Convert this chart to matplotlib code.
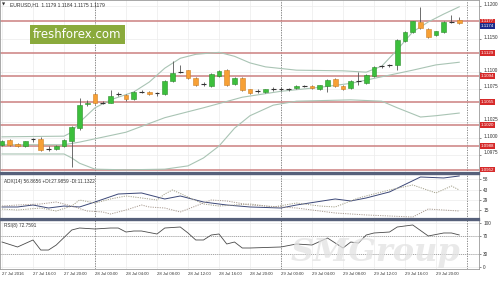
import numpy as np
import matplotlib.pyplot as plt
from matplotlib.transforms import blended_transform_factory, ScaledTranslation

plt.rcParams['font.family'] = ['Liberation Sans', 'DejaVu Sans']

# ---------------- data (EURUSD H1, 27 Jul 12:00 .. 29 Jul 23:00) ----------------
opens = [1.0989, 1.0997, 1.0991, 1.0988, 1.0997, 1.0998, 1.0983, 1.0983, 1.0988, 1.0995,
         1.1015, 1.1051, 1.1067, 1.1053, 1.1054, 1.1066, 1.1065, 1.1059, 1.1070, 1.1070,
         1.1069, 1.1067, 1.1086, 1.1099, 1.1103, 1.1091, 1.1081, 1.1079, 1.1094, 1.1103,
         1.1082, 1.1091, 1.1074, 1.1070, 1.1070, 1.1074, 1.1074, 1.1075, 1.1076, 1.1079,
         1.1079, 1.1074, 1.1079, 1.1089, 1.1079, 1.1076, 1.1085, 1.1083, 1.1094, 1.1108,
         1.1110, 1.1111, 1.1147, 1.1161, 1.1176, 1.1165, 1.1156, 1.1161, 1.1177, 1.1179]
highs = [1.0997, 1.0999, 1.0992, 1.0996, 1.1000, 1.1001, 1.0988, 1.0989, 1.0999, 1.1019,
         1.1061, 1.1058, 1.1069, 1.1056, 1.1073, 1.1070, 1.1067, 1.1071, 1.1073, 1.1071,
         1.1070, 1.1088, 1.1117, 1.1111, 1.1104, 1.1092, 1.1085, 1.1099, 1.1104, 1.1105,
         1.1092, 1.1092, 1.1075, 1.1074, 1.1075, 1.1077, 1.1077, 1.1076, 1.1080, 1.1081,
         1.1080, 1.1081, 1.1089, 1.1091, 1.1080, 1.1088, 1.1100, 1.1097, 1.1109, 1.1111,
         1.1112, 1.1150, 1.1163, 1.1178, 1.1198, 1.1167, 1.1163, 1.1177, 1.1186, 1.1184]
lows = [1.0988, 1.0988, 1.0986, 1.0986, 1.0994, 1.0980, 1.0981, 1.0982, 1.0986, 1.0956,
        1.1013, 1.1049, 1.1051, 1.1052, 1.1053, 1.1064, 1.1056, 1.1058, 1.1068, 1.1066,
        1.1064, 1.1065, 1.1085, 1.1098, 1.1089, 1.1079, 1.1079, 1.1077, 1.1092, 1.1079,
        1.1080, 1.1071, 1.1067, 1.1069, 1.1068, 1.1072, 1.1072, 1.1071, 1.1074, 1.1077,
        1.1075, 1.1073, 1.1070, 1.1077, 1.1073, 1.1074, 1.1080, 1.1082, 1.1092, 1.1106,
        1.1108, 1.1103, 1.1145, 1.1159, 1.1165, 1.1151, 1.1155, 1.1159, 1.1174, 1.1173]
closes = [1.0995, 1.0989, 1.0988, 1.0995, 1.0998, 1.0982, 1.0984, 1.0988, 1.0997, 1.1017,
          1.1050, 1.1054, 1.1053, 1.1054, 1.1064, 1.1067, 1.1059, 1.1070, 1.1070, 1.1067,
          1.1068, 1.1086, 1.1098, 1.1100, 1.1091, 1.1080, 1.1082, 1.1097, 1.1101, 1.1080,
          1.1091, 1.1073, 1.1068, 1.1071, 1.1074, 1.1074, 1.1075, 1.1074, 1.1079, 1.1079,
          1.1076, 1.1080, 1.1088, 1.1079, 1.1074, 1.1086, 1.1086, 1.1095, 1.1108, 1.1109,
          1.1111, 1.1148, 1.1161, 1.1177, 1.1167, 1.1153, 1.1162, 1.1176, 1.1176, 1.1174]

# Bollinger bands (bar index, price)
bb_upper_x = [0, 8, 9, 10, 12, 14, 17, 19, 21, 23, 25, 28, 30, 32, 34, 38, 44, 47, 49, 51, 53, 55, 57, 59]
bb_upper = [1.1002, 1.1003, 1.1009, 1.1024, 1.1046, 1.1058, 1.1070, 1.1085, 1.1106, 1.1121, 1.1127, 1.1130,
            1.1124, 1.1114, 1.1108, 1.1103, 1.1102, 1.1100, 1.1109, 1.1134, 1.1161, 1.1176, 1.1188, 1.1199]
bb_mid_x = [0, 8, 10, 12, 16, 21, 26, 31, 36, 41, 45, 49, 53, 56, 59]
bb_mid = [1.0990, 1.0990, 1.0994, 1.0999, 1.1009, 1.1031, 1.1046, 1.1062, 1.1071, 1.1077, 1.1083,
          1.1093, 1.1103, 1.1111, 1.1115]
bb_lower_x = [0, 8, 9, 10, 12, 16, 21, 24, 26, 28, 30, 32, 35, 38, 45, 49, 51, 54, 56, 59]
bb_lower = [1.0976, 1.0976, 1.0970, 1.0962, 1.0953, 1.0952, 1.0953, 1.0958, 1.0970, 1.0988, 1.1015,
            1.1034, 1.1050, 1.1056, 1.1058, 1.1056, 1.1046, 1.1032, 1.1034, 1.1038]

levels = [1.1177, 1.1129, 1.1094, 1.1055, 1.1020, 1.0988, 1.0952]
price_ticks = [1.0975, 1.1000, 1.1025, 1.1075, 1.1100, 1.1150, 1.1200]

adx_x = [0, 2, 4, 6, 8, 10, 12, 15, 18, 21, 23, 26, 29, 32, 36, 38, 43, 45, 47, 50, 54, 57, 59]
adx = [19.8, 19.8, 22.5, 18.4, 21.1, 19.8, 26.6, 37.5, 38.9, 30.7, 34.8, 26.6, 22.5, 19.8, 18.4,
       22.5, 30.7, 28.0, 32.1, 40.3, 60.7, 59.4, 62.1]
pdi_x = [0, 2, 5, 7, 9, 10, 12, 14, 16, 18, 20, 21, 22, 24, 26, 28, 30, 32, 35, 38, 41, 43, 46, 50, 53, 56, 58, 59]
pdi = [17.0, 15.7, 18.4, 14.3, 21.1, 29.3, 25.2, 30.7, 34.8, 32.1, 29.3, 37.5, 43.0, 33.4, 23.9, 21.1,
       22.5, 23.9, 19.8, 25.2, 21.1, 19.8, 32.1, 43.0, 49.8, 38.9, 48.4, 43.0]
mdi_x = [0, 2, 5, 7, 9, 11, 13, 14, 16, 18, 19, 21, 23, 26, 27, 29, 32, 36, 38, 43, 47, 53, 55, 59]
mdi = [21.1, 22.5, 23.9, 26.6, 21.1, 14.3, 13.0, 10.2, 15.7, 22.5, 19.8, 18.4, 13.0, 25.2, 29.3, 28.0,
       22.5, 19.8, 18.4, 11.6, 8.9, 6.1, 17.0, 14.3]
adx_ticks = [15, 29, 43, 58]

rsi_x = [0, 2, 4, 5, 6, 7, 9, 10, 12, 14, 15, 16, 17, 18, 20, 21, 23, 24, 25, 26, 27, 28, 29, 30, 31,
         32, 36, 38, 40, 42, 44, 45, 46, 47, 48, 50, 51, 53, 55, 57, 58, 59]
rsi = [56.8, 45.5, 61.4, 38.6, 38.6, 50.0, 84.1, 88.6, 86.4, 88.6, 88.6, 79.5, 81.8, 81.8, 75.0, 88.6,
       90.9, 77.3, 61.4, 61.4, 72.7, 75.0, 52.3, 56.8, 43.2, 43.2, 45.5, 52.3, 50.0, 65.9, 43.2, 56.8,
       54.5, 72.7, 77.3, 79.5, 90.9, 95.5, 70.5, 77.3, 77.3, 72.8]
rsi_ticks = [0, 30, 70, 100]

time_ticks = [0, 4, 8, 12, 16, 20, 24, 28, 32, 36, 40, 44, 48, 52, 56]
time_labels = ['27 Jul 2016', '27 Jul 16:00', '27 Jul 20:00', '28 Jul 00:00', '28 Jul 04:00',
               '28 Jul 08:00', '28 Jul 12:00', '28 Jul 16:00', '28 Jul 20:00', '29 Jul 00:00',
               '29 Jul 04:00', '29 Jul 08:00', '29 Jul 12:00', '29 Jul 16:00', '29 Jul 20:00']
day_breaks = [12, 36, 60]

# ---------------- figure ----------------
W, H = 500, 281
fig = plt.figure(figsize=(W / 100, H / 100), dpi=100)
fig.patch.set_facecolor('white')

def px_axes(top, bottom):
    return fig.add_axes([0, 1 - bottom / H, 479 / W, (bottom - top) / H])

ax = px_axes(0, 173)
ax_adx = px_axes(174, 219)
ax_rsi = px_axes(220, 269)

xlim = (-0.26, 61.55)
grid_col = '#ececec'
sep_col = '#56607a'
tick_fs = 3.4

for a in (ax, ax_adx, ax_rsi):
    a.set_xlim(*xlim)
    a.set_facecolor('white')
    a.yaxis.tick_right()
    a.tick_params(axis='y', length=1.5, width=0.4, pad=1.5, labelsize=tick_fs, colors='#333333')
    a.tick_params(axis='x', length=0)
    a.set_xticks(time_ticks)
    a.grid(True, color=grid_col, lw=0.5)
    a.set_axisbelow(True)
    for s in a.spines.values():
        s.set_color('#9a9a9a')
        s.set_linewidth(0.6)
    for d in day_breaks:
        a.axvline(d, color='#777777', lw=0.6, ls=(0, (1.5, 1.5)), zorder=1)

ax.set_xticklabels([])
ax_adx.set_xticklabels([])
ax.spines['bottom'].set_color(sep_col)
ax.spines['bottom'].set_linewidth(1.6)
ax_adx.spines['top'].set_color(sep_col)
ax_adx.spines['top'].set_linewidth(1.0)
ax_adx.spines['bottom'].set_color(sep_col)
ax_adx.spines['bottom'].set_linewidth(1.6)
ax_rsi.spines['top'].set_color(sep_col)
ax_rsi.spines['top'].set_linewidth(1.0)

# ---------------- main price panel ----------------
ax.set_ylim(1.09472, 1.12093)
ax.set_yticks(price_ticks)
ax.set_yticklabels(['%.4f' % p for p in price_ticks])
# MT4 prints the price labels a touch above their grid line
lift = ScaledTranslation(0, 0.022, fig.dpi_scale_trans)
for lab in ax.get_yticklabels():
    lab.set_transform(lab.get_transform() + lift)

for lv in levels:
    ax.axhline(lv, color='#cc8080', lw=1.1, zorder=2)

ax.plot(bb_upper_x, bb_upper, color='#a9c4b4', lw=0.8, zorder=3)
ax.plot(bb_mid_x, bb_mid, color='#a9c4b4', lw=0.8, zorder=3)
ax.plot(bb_lower_x, bb_lower, color='#a9c4b4', lw=0.8, zorder=3)

idx = np.arange(len(opens))
o = np.array(opens); h = np.array(highs); l = np.array(lows); c = np.array(closes)
ax.vlines(idx, l, h, color='#555555', lw=0.6, zorder=4)
body_w = 0.62
for i in idx:
    if abs(c[i] - o[i]) < 0.00015:
        ax.hlines(c[i], i - body_w / 2, i + body_w / 2, color='#333333', lw=0.8, zorder=5)
        continue
    up = c[i] > o[i]
    ax.bar(i, abs(c[i] - o[i]), bottom=min(o[i], c[i]), width=body_w,
           color='#3cbf3c' if up else '#f7a035',
           edgecolor='#2e8f2e' if up else '#cf8025', lw=0.4, zorder=5)

tr = blended_transform_factory(ax.transAxes, ax.transData)
box_fs = 3.2
for lv in levels:
    ax.text(1.004, lv, '%.4f' % lv, transform=tr, fontsize=box_fs, color='white',
            va='center', ha='left', clip_on=False, zorder=10,
            bbox=dict(boxstyle='square,pad=0.15', fc='#d62a2a', ec='none'))
# bid box sits right under the top level box
ax.text(1.004, levels[0] - 0.00040, '%.4f' % closes[-1], transform=tr, fontsize=box_fs,
        color='white', va='top', ha='left', clip_on=False, zorder=11,
        bbox=dict(boxstyle='square,pad=0.15', fc='#1c2c8c', ec='none'))

ax.text(0.004, 0.985, '\u25bc', transform=ax.transAxes, fontsize=3, color='#333333',
        va='top', ha='left', family='DejaVu Sans')
ax.text(0.02, 0.985, 'EURUSD,H1  1.1179 1.1184 1.1175 1.1179', transform=ax.transAxes,
        fontsize=3.6, color='#333333', va='top', ha='left')

fig.text(77.5 / W, 1 - 34.5 / H, 'freshforex.com', fontsize=8.5, color='white',
         ha='center', va='center', family='DejaVu Sans',
         bbox=dict(boxstyle='square,pad=0.25', fc='#8aaa3c', ec='none'))

# ---------------- ADX panel ----------------
ax_adx.set_ylim(3.4, 64.8)
ax_adx.set_yticks(adx_ticks)
ax_adx.plot(adx_x, adx, color='#3b4777', lw=0.7, zorder=3)
ax_adx.plot(pdi_x, pdi, color='#a3a08a', lw=0.7, ls=(0, (1.2, 1.2)), zorder=3)
ax_adx.plot(mdi_x, mdi, color='#a89a90', lw=0.7, ls=(0, (1.2, 1.2)), zorder=3)
ax_adx.text(0.008, 0.9, 'ADX(14) 56.8656 +DI:27.9859 -DI:11.1322', transform=ax_adx.transAxes,
            fontsize=3.4, color='#333333', va='top', ha='left')

# ---------------- RSI panel ----------------
ax_rsi.set_ylim(-4.5, 106.8)
ax_rsi.set_yticks(rsi_ticks)
ax_rsi.axhline(70, color='#888888', lw=0.5, ls=(0, (1.5, 1.5)))
ax_rsi.axhline(30, color='#888888', lw=0.5, ls=(0, (1.5, 1.5)))
ax_rsi.plot(rsi_x, rsi, color='#4a4a4a', lw=0.6, zorder=3)
ax_rsi.text(0.008, 0.93, 'RSI(8) 72.7591', transform=ax_rsi.transAxes,
            fontsize=3.4, color='#333333', va='top', ha='left')
ax_rsi.set_xticklabels(time_labels, fontsize=3.1, color='#333333', ha='left')
ax_rsi.tick_params(axis='x', pad=2.5)

fig.text(375 / W, 1 - 253 / H, 'SMGroup', fontsize=23, color='#e2e2e2', alpha=0.75,
         family='DejaVu Serif', style='italic', weight='bold', ha='center', va='center', zorder=20)

fig.savefig('out.png', dpi=100)
